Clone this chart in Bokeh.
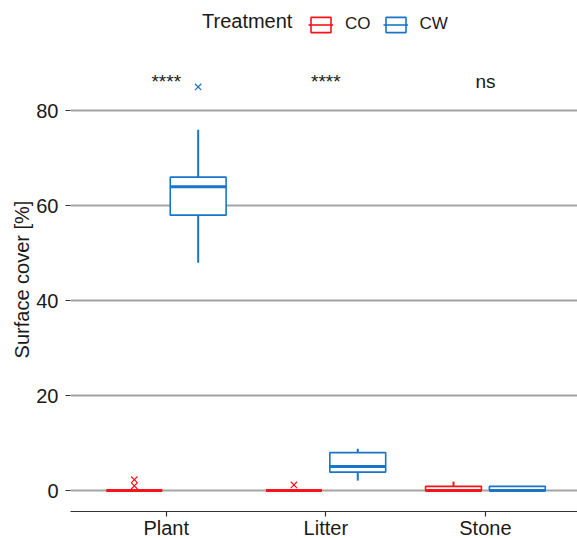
from bokeh.plotting import figure
from bokeh.layouts import column
from bokeh.models import (Range1d, FixedTicker, Legend, LegendItem, ColumnDataSource)
from bokeh.embed import file_html
from bokeh.resources import INLINE
from bokeh.core.properties import value

# ---- data ----
categories = ["Plant", "Litter", "Stone"]
treatments = ["CO", "CW"]
colors = {"CO": "#F5141B", "CW": "#1A74C8"}

lower = {"CO": [0, 0, 0], "CW": [48, 2.1, 0]}
q1 = {"CO": [0, 0, 0], "CW": [58, 3.9, 0]}
median = {"CO": [0, 0, 0], "CW": [64, 5.1, 0]}
q3 = {"CO": [0, 0, 0.9], "CW": [66, 8.0, 0.9]}
upper = {"CO": [0, 0, 1.9], "CW": [76, 8.8, 0.9]}
outlier_cat = {"CO": ["Plant", "Plant", "Litter"], "CW": ["Plant"]}
outlier_val = {"CO": [1.0, 2.3, 1.2], "CW": [85]}

sig_labels = ["****", "****", "ns"]
sig_y = [86.2, 86.2, 86.2]

y_ticks = [0, 20, 40, 60, 80]
legend_title = "Treatment"

FONT = "Liberation Sans"
dodge = {"CO": -0.2, "CW": 0.2}
box_w = 0.35

xpos = list(range(1, len(categories) + 1))
cat_index = {c: i + 1 for i, c in enumerate(categories)}

sources = {}
for t in treatments:
    xs = [x + dodge[t] for x in xpos]
    sources[t] = ColumnDataSource(dict(
        x=xs, left=[x - box_w / 2 for x in xs], right=[x + box_w / 2 for x in xs],
        lower=lower[t], q1=q1[t], med=median[t], q3=q3[t], upper=upper[t]))

# ---------------- legend strip (top) ----------------
LEG_H = 47
# the strip's ranges keep its own copies of the boxes out of view; only the legend shows
lp = figure(width=577, height=LEG_H, output_backend="svg", toolbar_location=None,
            x_axis_type=None, y_axis_type=None,
            x_range=Range1d(-1000, -999), y_range=Range1d(-1000, -999),
            min_border=0)
lp.outline_line_color = None
lp.grid.grid_line_color = None

blank = lp.scatter([], [], alpha=0)
title_legend = Legend(items=[LegendItem(label=legend_title, renderers=[blank])],
                      location=(131, 14), orientation="horizontal",
                      label_text_font=FONT, label_text_font_size="20px",
                      label_text_color="#1a1a1a",
                      border_line_color=None, background_fill_alpha=0,
                      glyph_width=1, glyph_height=20, label_standoff=0,
                      padding=0, margin=0)
lp.add_layout(title_legend, "center")

leg_items = []
for t in treatments:
    c = colors[t]
    lb = lp.quad(left="left", right="right", bottom="q1", top="q3", source=sources[t],
                 fill_color="white", line_color=c, line_width=1.6)
    lm = lp.segment(x0="left", y0="med", x1="right", y1="med", source=sources[t],
                    line_color=c, line_width=1.6)
    leg_items.append(LegendItem(label=t, renderers=[lb, lm]))
legend = Legend(items=leg_items, orientation="horizontal", location=(238, 13),
                label_text_font=FONT, label_text_font_size="17px",
                label_text_color="#1a1a1a",
                border_line_color=None, background_fill_alpha=0,
                glyph_width=25, glyph_height=19, label_standoff=12, spacing=12,
                padding=0, margin=0)
lp.add_layout(legend, "center")

# ---------------- main plot ----------------
FRAME_W, FRAME_H = 507, 464
p = figure(frame_width=FRAME_W, frame_height=FRAME_H, output_backend="svg",
           toolbar_location=None,
           x_range=Range1d(0.4, 3.577), y_range=Range1d(-4.4, 93.3),
           min_border_left=70, min_border_right=0, min_border_top=0,
           min_border_bottom=26)
p.outline_line_color = None
p.background_fill_color = "white"

for t in treatments:
    src = sources[t]
    c = colors[t]
    p.segment(x0="x", y0="q3", x1="x", y1="upper", source=src, line_color=c, line_width=2)
    p.segment(x0="x", y0="lower", x1="x", y1="q1", source=src, line_color=c, line_width=2)
    p.quad(left="left", right="right", bottom="q1", top="q3", source=src,
           fill_color="white", line_color=c, line_width=1.6)
    p.segment(x0="left", y0="med", x1="right", y1="med", source=src,
              line_color=c, line_width=3)
    ox = [cat_index[cc] + dodge[t] for cc in outlier_cat[t]]
    p.scatter(ox, outlier_val[t], marker="x", size=9, line_color=c, line_width=1.2)

p.text(xpos, sig_y, text=sig_labels, text_align="center", text_baseline="alphabetic",
       text_font=value(FONT), text_font_size="19px", text_color="#1a1a1a")

p.xaxis.ticker = FixedTicker(ticks=xpos)
p.xaxis.major_label_overrides = {i + 1: c for i, c in enumerate(categories)}
p.yaxis.ticker = FixedTicker(ticks=y_ticks)
for ax in (p.xaxis, p.yaxis):
    ax.major_label_text_font = FONT
    ax.major_label_text_font_size = "20px"
    ax.major_label_text_color = "#1a1a1a"
    ax.major_tick_out = 5
    ax.major_tick_in = 0
    ax.minor_tick_line_color = None
    ax.major_tick_line_color = "#333333"
    ax.major_tick_line_width = 1.2
p.xaxis.major_label_standoff = 0
p.yaxis.major_label_standoff = 7
p.xaxis.axis_line_color = "#333333"
p.xaxis.axis_line_width = 1.2
p.yaxis.axis_line_color = None
p.yaxis.axis_label = "Surface cover [%]"
p.yaxis.axis_label_text_font = FONT
p.yaxis.axis_label_text_font_size = "20px"
p.yaxis.axis_label_text_font_style = "normal"
p.yaxis.axis_label_text_color = "#1a1a1a"
p.yaxis.axis_label_standoff = 0

p.xgrid.grid_line_color = None
p.ygrid.grid_line_color = "#A3A3A3"
p.ygrid.grid_line_width = 1.8
p.ygrid.ticker = FixedTicker(ticks=y_ticks)

layout = column(lp, p, spacing=0)
open("out.html", "w").write(file_html(layout, INLINE))
